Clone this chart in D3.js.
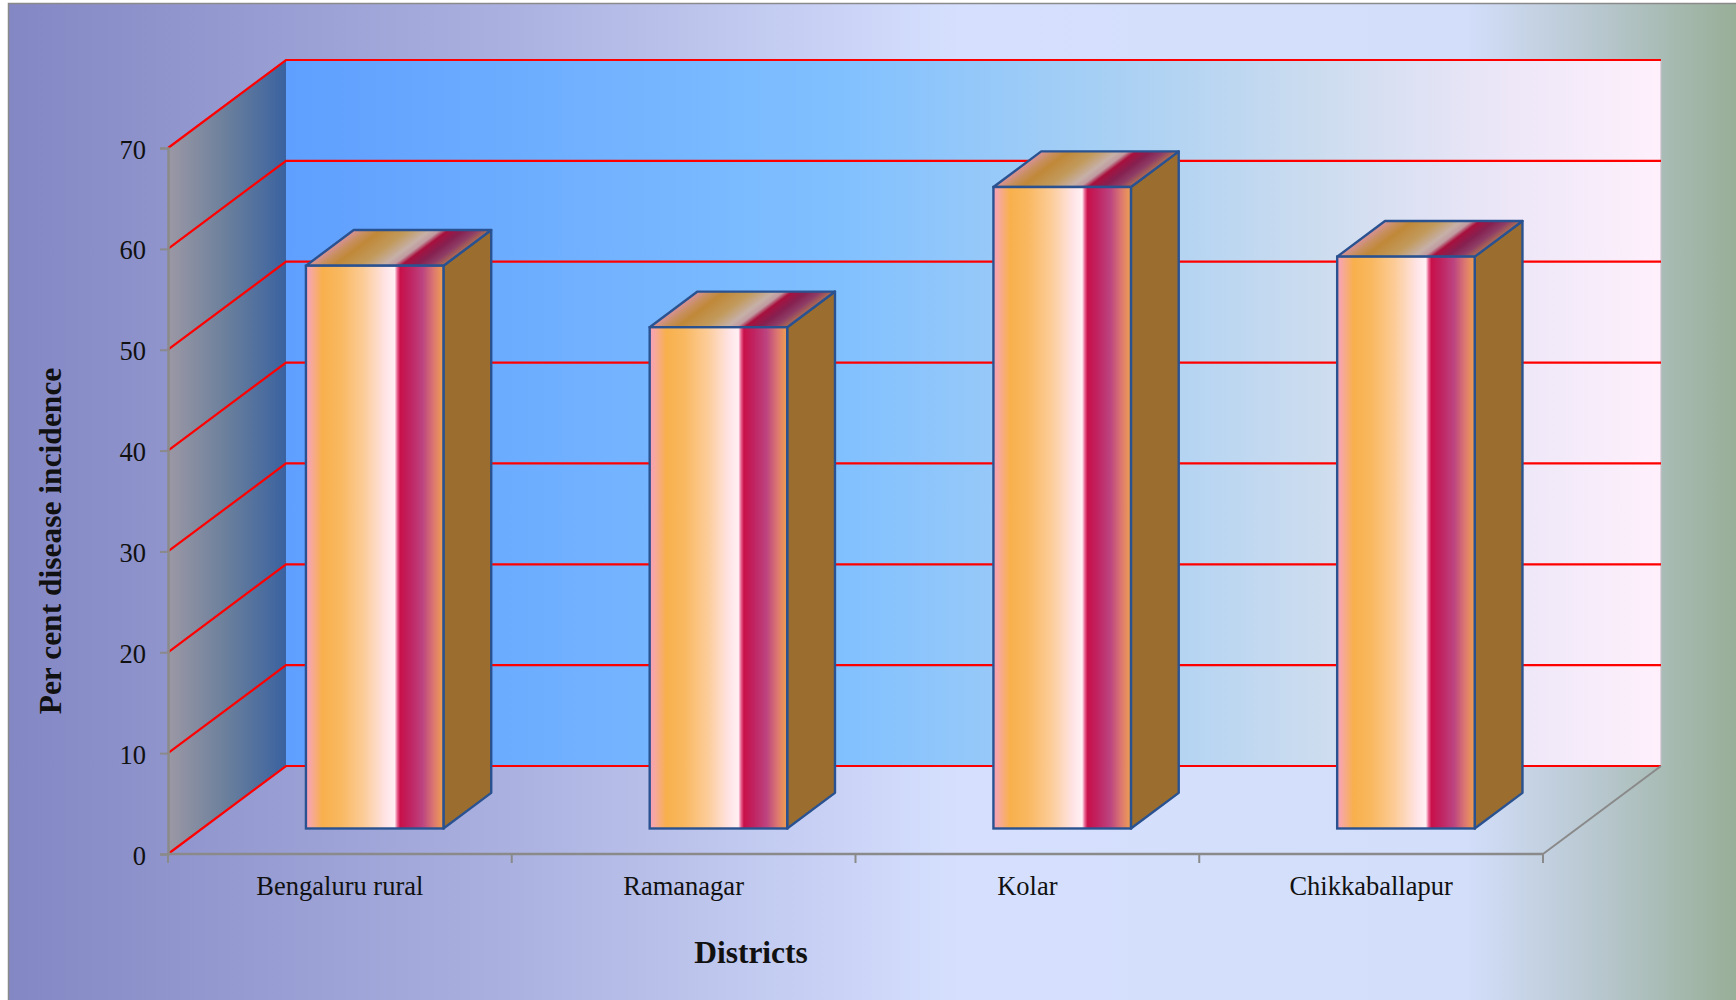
<!DOCTYPE html>
<html>
<head>
<meta charset="utf-8">
<script src="https://cdn.jsdelivr.net/npm/d3@7/dist/d3.min.js"></script>
<style>
  html, body { margin: 0; padding: 0; background: #fff; }
  svg { display: block; }
  text { font-family: "Liberation Serif", "Times New Roman", serif; fill: #111; }
</style>
</head>
<body>
<svg id="chart" width="1736" height="1000"></svg>
<script>
// Data
const categories = ["Bengaluru rural", "Ramanagar", "Kolar", "Chikkaballapur"];
const incidence = [55.8, 49.7, 63.6, 56.7];
const yTicks = [0, 10, 20, 30, 40, 50, 60, 70];
const xTitle = "Districts";
const yTitle = "Per cent disease incidence";

// Layout
const W = 1736, H = 1000;
const plot = { left: 168, right: 1543, top: 148, bottom: 854 };
const depth = { dx: 118, dy: -88 };      // offset of the back wall from the front plane
const barFront = 0.295;                  // depth fraction of bar front face
const barDepth = 0.405;                  // depth fraction occupied by each bar
const barFrac = 0.4;                     // bar width as share of the category band

const svg = d3.select("#chart");
const defs = svg.append("defs");

function linGrad(id, stops, attrs) {
  const g = defs.append("linearGradient").attr("id", id);
  Object.entries(attrs || { x1: 0, y1: 0, x2: 1, y2: 0 }).forEach(([k, v]) => g.attr(k, v));
  stops.forEach(([o, c]) => g.append("stop").attr("offset", o).attr("stop-color", c));
  return g;
}

linGrad("bgGrad", [[0, "#8387c4"], [0.3, "#acb3e1"], [0.55, "#d6e0fe"], [0.84, "#d2defa"],
                   [0.92, "#b6c6cc"], [1, "#96ad94"]]);
linGrad("backGrad", [[0, "#5f9fff"], [0.4, "#80c0ff"], [0.6, "#a8d0f4"], [0.75, "#ccdcef"],
                     [0.88, "#ebe6f7"], [1, "#fff0fc"]]);
linGrad("sideGrad", [[0, "#9c98a5"], [0.5, "#6a7f9c"], [1, "#3a62a0"]]);
linGrad("frontGrad", [[0, "#f6a0bc"], [0.04, "#f7a89c"], [0.12, "#f8b04c"], [0.25, "#f9b860"],
                      [0.42, "#fccc98"], [0.58, "#ffe4e6"], [0.645, "#fff0f4"], [0.665, "#e8608e"],
                      [0.685, "#c8104a"], [0.76, "#c02462"], [0.85, "#bc4480"], [0.93, "#dc7870"],
                      [1, "#f0a050"]]);

// Scales
const x = d3.scaleBand().domain(categories).range([plot.left, plot.right]).padding(0);
const y = d3.scaleLinear().domain([0, 70]).range([plot.bottom, plot.top]);
const barW = x.bandwidth() * barFrac;
const bdx = depth.dx * barDepth, bdy = depth.dy * barDepth;

// Top-face gradient: bands run along the depth direction
linGrad("topGrad", [[0, "#d8929c"], [0.1, "#c88f60"], [0.2, "#c08838"], [0.4, "#c29a5c"],
                    [0.56, "#c6b0a8"], [0.63, "#c09aa0"], [0.69, "#a8103e"], [0.8, "#862050"],
                    [0.9, "#8e3c66"], [1, "#b07050"]],
        { gradientUnits: "userSpaceOnUse", x1: 0, y1: 0, x2: barW * 0.36, y2: barW * 0.48 });

// Background panel
svg.append("rect").attr("x", 8.5).attr("y", 3.5).attr("width", W).attr("height", H)
  .attr("fill", "url(#bgGrad)").attr("stroke", "#8a8a8a").attr("stroke-width", 1.5);

// Side wall (left)
const y0 = y(0), y70 = y(70);
svg.append("path")
  .attr("d", `M${plot.left},${y70} L${plot.left + depth.dx},${y70 + depth.dy} L${plot.left + depth.dx},${y0 + depth.dy} L${plot.left},${y0} Z`)
  .attr("fill", "url(#sideGrad)");

// Back wall
svg.append("rect")
  .attr("x", plot.left + depth.dx).attr("y", y70 + depth.dy)
  .attr("width", plot.right - plot.left).attr("height", y0 - y70)
  .attr("fill", "url(#backGrad)");
svg.append("line")
  .attr("x1", plot.right + depth.dx).attr("x2", plot.right + depth.dx)
  .attr("y1", y70 + depth.dy).attr("y2", y0 + depth.dy)
  .attr("stroke", "#c8c0c8").attr("stroke-width", 1.2);

// Gridlines on side wall and back wall
const grid = svg.append("g").attr("stroke", "#ff0000").attr("stroke-width", 2.2).attr("fill", "none");
yTicks.forEach(v => {
  grid.append("path")
    .attr("d", `M${plot.left},${y(v)} L${plot.left + depth.dx},${y(v) + depth.dy} L${plot.right + depth.dx},${y(v) + depth.dy}`);
});

// Floor right edge
svg.append("line")
  .attr("x1", plot.right).attr("y1", y0)
  .attr("x2", plot.right + depth.dx).attr("y2", y0 + depth.dy)
  .attr("stroke", "#8a8a8a").attr("stroke-width", 2);

// Y axis
const yAxis = svg.append("g").attr("transform", `translate(${plot.left},0)`)
  .call(d3.axisLeft(y).tickValues(yTicks).tickSize(8).tickPadding(14));
yAxis.select(".domain").attr("stroke", "#8a8a8a").attr("stroke-width", 2.5);
yAxis.selectAll(".tick line").attr("stroke", "#8a8a8a").attr("stroke-width", 2);
yAxis.selectAll(".tick text").attr("font-size", 26.5).attr("dy", "0.38em")
  .style("font-family", '"Liberation Serif", "Times New Roman", serif').attr("fill", "#111");

// X axis: labels at band centers, ticks at band boundaries
const xAxis = svg.append("g").attr("transform", `translate(0,${y0})`)
  .call(d3.axisBottom(x).tickSize(0).tickPadding(22));
xAxis.select(".domain").remove();
xAxis.selectAll(".tick text").attr("font-size", 26.5)
  .style("font-family", '"Liberation Serif", "Times New Roman", serif').attr("fill", "#111");
svg.append("line").attr("x1", plot.left).attr("x2", plot.right).attr("y1", y0).attr("y2", y0)
  .attr("stroke", "#8a8a8a").attr("stroke-width", 2.5);
const bounds = categories.map(c => x(c)).concat([x(categories[categories.length - 1]) + x.bandwidth()]);
svg.append("g").selectAll("line").data(bounds).join("line")
  .attr("x1", d => d).attr("x2", d => d).attr("y1", y0).attr("y2", y0 + 9)
  .attr("stroke", "#8a8a8a").attr("stroke-width", 2);

// Bars
const bars = svg.append("g").selectAll("g").data(categories.map((c, i) => ({ c, v: incidence[i] })))
  .join("g")
  .attr("transform", d => {
    const fx = x(d.c) + (x.bandwidth() - barW) / 2 + depth.dx * barFront;
    const top = y(d.v) + depth.dy * 0.29;
    return `translate(${fx},${top})`;
  });

const barStroke = "#2a5290";
bars.append("path") // side face
  .attr("d", d => {
    const h = y0 - y(d.v);
    return `M${barW},0 L${barW + bdx},${bdy} L${barW + bdx},${h + bdy} L${barW},${h} Z`;
  })
  .attr("fill", "#9b6e30").attr("stroke", barStroke).attr("stroke-width", 2.4).attr("stroke-linejoin", "round");
bars.append("path") // top face
  .attr("d", `M0,0 L${bdx},${bdy} L${barW + bdx},${bdy} L${barW},0 Z`)
  .attr("fill", "url(#topGrad)").attr("stroke", barStroke).attr("stroke-width", 2.4).attr("stroke-linejoin", "round");
bars.append("rect") // front face
  .attr("x", 0).attr("y", 0).attr("width", barW)
  .attr("height", d => y0 - y(d.v))
  .attr("fill", "url(#frontGrad)").attr("stroke", barStroke).attr("stroke-width", 2.4);

// Axis titles
svg.append("text").text(xTitle)
  .attr("x", 751).attr("y", 963).attr("text-anchor", "middle")
  .attr("font-size", 31.5).attr("font-weight", "bold");
svg.append("text").text(yTitle)
  .attr("transform", "translate(61,541) rotate(-90)").attr("text-anchor", "middle")
  .attr("font-size", 31.5).attr("font-weight", "bold");
</script>
</body>
</html>
